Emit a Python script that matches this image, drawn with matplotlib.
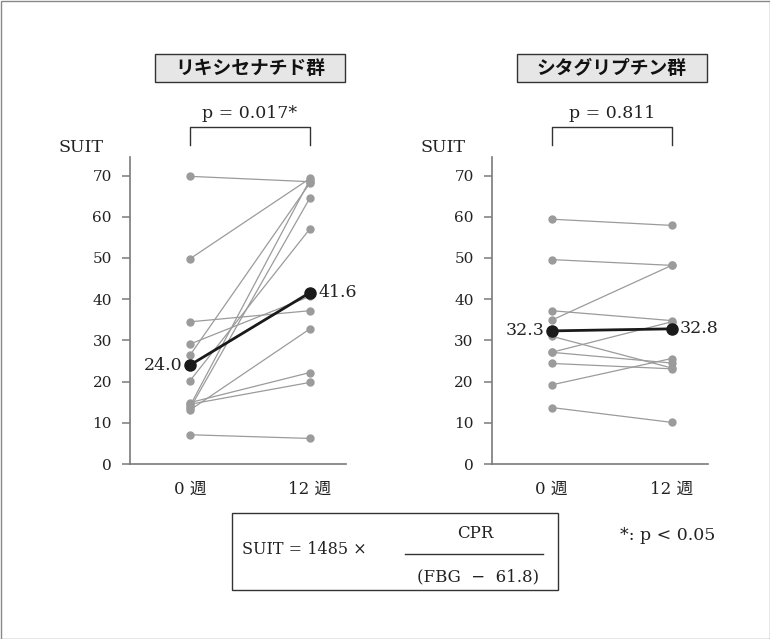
import matplotlib
matplotlib.use("Agg")
import matplotlib.pyplot as plt
from matplotlib.patches import Rectangle
from matplotlib.lines import Line2D

plt.rcParams['font.family'] = ['DejaVu Serif', 'Noto Sans CJK JP']

# ---------------- data ----------------
timepoints = ["0 週", "12 週"]
titles = ["リキシセナチド群", "シタグリプチン群"]
pvalues = ["p = 0.017*", "p = 0.811"]
yticks = [0, 10, 20, 30, 40, 50, 60, 70]

lixi_week0 = [69.8, 49.8, 34.5, 29.1, 26.4, 20.2, 14.9, 14.5, 14.1, 13.5, 13.1, 7.1]
lixi_week12 = [68.5, 69.3, 37.2, 40.7, 68.2, 57.1, 22.2, 19.8, 69.0, 64.6, 32.8, 6.2]
lixi_mean = [24.0, 41.6]

sita_week0 = [59.4, 49.6, 37.2, 34.9, 31.0, 27.1, 27.1, 24.4, 19.2, 13.7]
sita_week12 = [57.9, 48.2, 34.8, 48.2, 23.3, 34.5, 24.5, 23.1, 25.6, 10.1]
sita_mean = [32.3, 32.8]

W, H = 770, 639
fig = plt.figure(figsize=(W / 100, H / 100), dpi=100)

SERIF2 = ['Liberation Serif', 'Noto Sans CJK JP']


def fx(x):
    return x / W


def fy(y):
    return 1 - y / H


GRAY = "#9b9b9b"
AX = "#7a7a7a"
TXT = "#222222"

panels = [
    (130, lixi_week0, lixi_week12, lixi_mean),
    (491.7, sita_week0, sita_week12, sita_mean),
]

ax_bottom, ax_top = 464, 157
ymax = (ax_bottom - ax_top) / 4.121
xl, xr = -0.5, 1.3

for i, (x0, w0, w12, mean) in enumerate(panels):
    width_px = (xr - xl) * 120
    ax = fig.add_axes([fx(x0), fy(ax_bottom), width_px / W, (ax_bottom - ax_top) / H])
    ax.set_xlim(xl, xr)
    ax.set_ylim(0, ymax)
    for a, b in zip(w0, w12):
        ax.plot([0, 1], [a, b], color=GRAY, lw=0.9, marker='o', ms=5,
                mfc=GRAY, mec=GRAY, zorder=2, clip_on=False)
    ax.plot([0, 1], mean, color="#1a1a1a", lw=2.0, marker='o', ms=8,
            mfc="#1a1a1a", mec="#1a1a1a", zorder=5, clip_on=False)
    ax.text(-0.06, mean[0], f"{mean[0]:.1f}", ha='right', va='center', fontsize=12.5, color=TXT)
    ax.text(1.07, mean[1], f"{mean[1]:.1f}", ha='left', va='center', fontsize=12.5, color=TXT)

    for s in ['top', 'right']:
        ax.spines[s].set_visible(False)
    for s in ['left', 'bottom']:
        ax.spines[s].set_color(AX)
        ax.spines[s].set_linewidth(1.2)
    ax.set_yticks(yticks)
    ax.set_yticklabels([str(t) for t in yticks])
    ax.tick_params(axis='y', length=6, width=1.1, color=AX, pad=7, labelsize=11, labelcolor=TXT)
    ax.set_xticks([0, 1])
    ax.set_xticklabels(timepoints)
    ax.tick_params(axis='x', length=0, pad=12, labelsize=12, labelcolor=TXT)
    ax.patch.set_visible(False)

    # bracket and p-value
    yb_top = (ax_bottom - 127) / 4.121
    yb_bot = (ax_bottom - 145) / 4.121
    ax.plot([0, 0, 1, 1], [yb_bot, yb_top, yb_top, yb_bot], color="#333", lw=1.0, clip_on=False)
    ax.text(0.5, (ax_bottom - 114) / 4.121, pvalues[i], ha='center', va='center',
            fontsize=12.5, color=TXT)

    # SUIT label
    fig.text(fx(x0 - 49), fy(148), "SUIT", ha='center', va='center', fontsize=12.5,
             color=TXT)

    # title box
    cx = x0 + 60 + 60
    bw, bh = 190, 28
    fig.patches.append(Rectangle((fx(cx - bw / 2), fy(82)), bw / W, bh / H,
                                 transform=fig.transFigure, facecolor="#e6e6e6",
                                 edgecolor="#333", lw=1.0))
    fig.text(fx(cx), fy(68), titles[i], ha='center', va='center', fontsize=13.5,
             fontweight='bold', family=['Noto Sans CJK JP'], color="#111")

# formula box
fig.patches.append(Rectangle((fx(232), fy(590)), (558 - 232) / W, (590 - 513) / H,
                             transform=fig.transFigure, facecolor='none',
                             edgecolor="#333", lw=1.0))
fig.text(fx(304), fy(549), "SUIT = 1485 ×", ha='center', va='center', fontsize=11.5,
         color=TXT)
fig.text(fx(475), fy(533), "CPR", ha='center', va='center', fontsize=12, color=TXT)
fig.lines.append(Line2D([fx(405), fx(543)], [fy(554), fy(554)], transform=fig.transFigure,
                        color="#333", lw=1.0))
fig.text(fx(478), fy(577), "(FBG  −  61.8)", ha='center', va='center', fontsize=12,
         color=TXT)
fig.text(fx(668), fy(536), "*: p < 0.05", ha='center', va='center', fontsize=12.5, color=TXT)

# outer frame
fig.patches.append(Rectangle((0.5 / W, 0.5 / H), (W - 1) / W, (H - 1) / H,
                             transform=fig.transFigure, facecolor='none',
                             edgecolor="#888", lw=1.0))

fig.savefig("out.png", dpi=100)
